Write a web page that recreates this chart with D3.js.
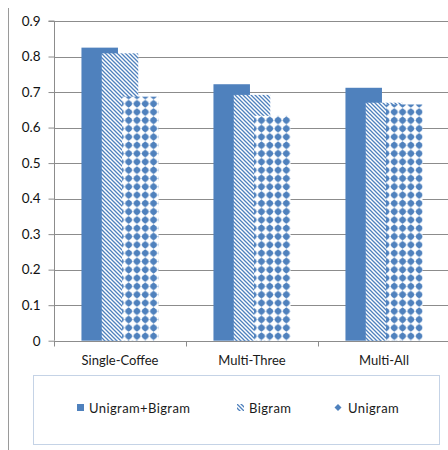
<!DOCTYPE html>
<html><head><meta charset="utf-8">
<script src="https://cdn.jsdelivr.net/npm/d3@7"></script>
<style>html,body{margin:0;padding:0;background:#fff;} svg{display:block;}</style>
</head><body>
<script>
const categories = ["Single-Coffee", "Multi-Three", "Multi-All"];
const seriesNames = ["Unigram+Bigram", "Bigram", "Unigram"];
const unigramBigram = [0.825, 0.722, 0.712];
const bigram = [0.809, 0.692, 0.670];
const unigram = [0.687, 0.633, 0.665];
const yTicks = [0, 0.1, 0.2, 0.3, 0.4, 0.5, 0.6, 0.7, 0.8, 0.9];

const seriesValues = [unigramBigram, bigram, unigram];
const W = 448, H = 450;
const blue = "#4f81bd";
const font = "Lato, 'Open Sans', sans-serif";

const svg = d3.select("body").append("svg").attr("width", W).attr("height", H);
const defs = svg.append("defs");

// stripes pattern (downward diagonal)
const pStripe = defs.append("pattern").attr("id", "stripe").attr("patternUnits", "userSpaceOnUse")
  .attr("width", 4).attr("height", 4);
pStripe.append("rect").attr("width", 4).attr("height", 4).attr("fill", "#fff");
pStripe.append("path").attr("d", "M-1,-1 L5,5 M-1,3 L1,5 M3,-1 L5,1")
  .attr("stroke", blue).attr("stroke-width", 1.3);

// dots pattern
const pDot = defs.append("pattern").attr("id", "dots").attr("patternUnits", "userSpaceOnUse")
  .attr("width", 8.3).attr("height", 8.3);
pDot.append("rect").attr("width", 8.3).attr("height", 8.3).attr("fill", "#fff");
pDot.append("path").attr("d", "M4.15,0.3 L6.6,2.0 L7.9,4.15 L6.6,6.3 L4.15,8.0 L1.7,6.3 L0.4,4.15 L1.7,2.0 Z")
  .attr("fill", blue);

const fills = [blue, "url(#stripe)", "url(#dots)"];

// left border line
svg.append("line").attr("x1", 8.5).attr("x2", 8.5).attr("y1", 8).attr("y2", H)
  .attr("stroke", "#9a9a9a").attr("stroke-width", 1);

const x = d3.scaleBand().domain(categories).range([54, 450]).padding(0);
const y = d3.scaleLinear().domain([0, 0.9]).range([340.7, 21]);

// gridlines
svg.append("g").selectAll("line").data(yTicks.slice(1)).join("line")
  .attr("x1", 54).attr("x2", W).attr("y1", d => Math.round(y(d)) + 0.5).attr("y2", d => Math.round(y(d)) + 0.5)
  .attr("stroke", "#8c8c8c").attr("stroke-width", 1.2);

// bars
const barW = x.bandwidth() * 0.2765;
const stepW = barW * 0.556;
const groupW = stepW * (seriesNames.length - 1) + barW;
const gBars = svg.append("g");
seriesNames.forEach((s, si) => {
  gBars.append("g").selectAll("rect").data(categories).join("rect")
    .attr("x", c => x(c) + (x.bandwidth() - groupW) / 2 + si * stepW)
    .attr("y", (c, i) => y(seriesValues[si][i]))
    .attr("width", barW)
    .attr("height", (c, i) => y(0) - y(seriesValues[si][i]))
    .attr("fill", fills[si]);
});

// y axis
const yAxis = d3.axisLeft(y).tickValues(yTicks).tickSize(6).tickPadding(8)
  .tickFormat(d => d === 0 ? "0" : d3.format(".1f")(d));
const gy = svg.append("g").attr("transform", "translate(54.5,0)").call(yAxis);
gy.select(".domain").attr("stroke", "#8c8c8c").attr("d", `M-6,${y(0.9)}H0V${y(0)}`);
gy.selectAll(".tick line").attr("stroke", "#8c8c8c");
gy.selectAll(".tick text").attr("font-family", font).attr("font-size", 13.5).attr("fill", "#111");

// x axis
const xAxis = d3.axisBottom(x).tickSize(0).tickPadding(14);
const gx = svg.append("g").attr("transform", `translate(0,${Math.round(y(0)) + 0.5})`).call(xAxis);
gx.select(".domain").attr("stroke", "#8c8c8c").attr("stroke-width", 1.2).attr("d", `M54,0H${W}`);
gx.selectAll(".tick text").attr("font-family", font).attr("font-size", 13).attr("fill", "#1a1a1a");
// category boundary ticks
gx.append("g").selectAll("line").data(categories).join("line")
  .attr("x1", c => Math.round(x(c)) + 0.5).attr("x2", c => Math.round(x(c)) + 0.5)
  .attr("y1", 0).attr("y2", 5).attr("stroke", "#8c8c8c");

// legend
svg.append("rect").attr("x", 33.5).attr("y", 375.5).attr("width", 406).attr("height", 69)
  .attr("fill", "#fff").attr("stroke", "#c5d3e6");
const legX = [77, 237, 334];
const leg = svg.append("g").selectAll("g").data(seriesNames).join("g")
  .attr("transform", (d, i) => `translate(${legX[i]},404)`);
leg.append("rect").attr("width", 7).attr("height", 7)
  .attr("fill", (d, i) => i === 2 ? "none" : fills[i]);
leg.filter((d, i) => i === 2).append("path").attr("d", "M4,0 L7.5,3.5 L4,7 L0.5,3.5 Z").attr("fill", blue);
leg.append("text").attr("x", (d, i) => i === 2 ? 14 : 12).attr("y", 9)
  .attr("font-family", font).attr("font-size", 13).attr("fill", "#1a1a1a")
  .attr("letter-spacing", 0.4)
  .text(d => d);
</script>
</body></html>
